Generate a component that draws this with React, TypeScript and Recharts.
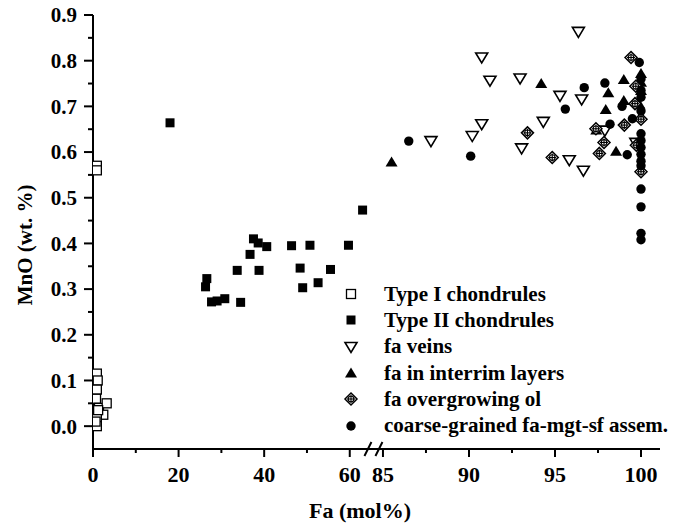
import React from "react";
import {
  ScatterChart,
  Scatter,
  XAxis,
  YAxis,
  Legend,
  ReferenceDot,
} from "recharts";

// broken x axis: 0..64 drawn as is, 85..100 stretched after a gap
const U85 = 67.76;
const K = 4.02;
const toU = (fa: number) => (fa <= 64 ? fa : U85 + (fa - 85) * K);

const leftTicks = [0, 10, 20, 30, 40, 50, 60];
const rightTicks = [85, 87.5, 90, 92.5, 95, 97.5, 100];
const xLabelled = [0, 20, 40, 60, 85, 90, 95, 100];

const yMajor = [0, 0.1, 0.2, 0.3, 0.4, 0.5, 0.6, 0.7, 0.8, 0.9];
const yMinor = [0.05, 0.15, 0.25, 0.35, 0.45, 0.55, 0.65, 0.75, 0.85];

const typeIFa = [0.9, 0.9, 0.9, 1.1, 0.9, 0.7, 1.4, 3.2, 2.4, 0.9, 0.9, 1.2, 0.6];
const typeIMnO = [0.57, 0.56, 0.115, 0.1, 0.08, 0.06, 0.04, 0.05, 0.025, 0.02, 0.0, 0.035, 0.01];

const typeIIFa = [18.0, 37.5, 38.6, 40.6, 46.4, 50.7, 59.7, 36.7, 33.7, 38.8, 48.4, 55.5, 26.6, 26.3, 49.0, 52.6, 27.7, 29.0, 30.8, 34.5, 63.0];
const typeIIMnO = [0.664, 0.41, 0.401, 0.393, 0.395, 0.396, 0.396, 0.376, 0.341, 0.341, 0.346, 0.343, 0.323, 0.305, 0.303, 0.314, 0.272, 0.274, 0.279, 0.271, 0.473];

const veinFa = [96.36, 90.74, 91.22, 92.97, 95.29, 96.55, 90.74, 94.32, 90.19, 87.79, 93.06, 95.83, 96.65, 97.9, 99.7];
const veinMnO = [0.863, 0.807, 0.756, 0.761, 0.723, 0.715, 0.661, 0.666, 0.635, 0.624, 0.608, 0.582, 0.559, 0.647, 0.62];

const interrimFa = [85.5, 94.2, 99.0, 98.1, 97.95, 99.0, 97.4, 98.55, 100.0, 100.0, 100.0, 99.9];
const interrimMnO = [0.578, 0.75, 0.759, 0.73, 0.693, 0.713, 0.648, 0.602, 0.772, 0.753, 0.735, 0.705];

const overFa = [93.4, 94.84, 99.42, 97.85, 97.58, 97.38, 99.03, 100.0, 99.7, 99.65, 99.73, 100.0];
const overMnO = [0.642, 0.588, 0.807, 0.621, 0.597, 0.651, 0.659, 0.672, 0.744, 0.706, 0.615, 0.557];

const coarseFa = [86.5, 90.1, 95.6, 96.7, 97.9, 98.2, 99.2, 98.9, 99.5, 99.9, 100, 100, 100, 100, 100, 100, 100, 100, 100, 100, 100, 100, 100, 100];
const coarseMnO = [0.624, 0.591, 0.694, 0.741, 0.751, 0.661, 0.594, 0.7, 0.673, 0.796, 0.76, 0.72, 0.69, 0.64, 0.625, 0.61, 0.595, 0.58, 0.57, 0.519, 0.48, 0.422, 0.408, 0.735];

const FONT = "'Liberation Serif', 'Times New Roman', serif";

const build = (fa: number[], v: number[]) => fa.map((f, i) => ({ u: toU(f), v: v[i] }));

const OpenSquare = ({ cx, cy }: any) => (
  <rect x={cx - 4.5} y={cy - 4.5} width={9} height={9} fill="#fff" stroke="#000" strokeWidth={1.3} />
);
const FilledSquare = ({ cx, cy }: any) => (
  <rect x={cx - 4.5} y={cy - 4.5} width={9} height={9} fill="#000" />
);
const DownTriangle = ({ cx, cy }: any) => (
  <path d={`M${cx - 6},${cy - 4.5} L${cx + 6},${cy - 4.5} L${cx},${cy + 5.5} Z`} fill="#fff" stroke="#000" strokeWidth={1.6} />
);
const UpTriangle = ({ cx, cy }: any) => (
  <path d={`M${cx - 6},${cy + 4.5} L${cx + 6},${cy + 4.5} L${cx},${cy - 5.5} Z`} fill="#000" />
);
const CrossDiamond = ({ cx, cy }: any) => (
  <g fill="none" stroke="#000">
    <path d={`M${cx},${cy - 6} L${cx + 6},${cy} L${cx},${cy + 6} L${cx - 6},${cy} Z`} fill="#fff" strokeWidth={1.5} />
    <circle cx={cx} cy={cy} r={2.8} strokeWidth={1.1} />
    <line x1={cx - 4} y1={cy} x2={cx + 4} y2={cy} strokeWidth={1.1} />
    <line x1={cx} y1={cy - 4} x2={cx} y2={cy + 4} strokeWidth={1.1} />
  </g>
);
const FilledCircle = ({ cx, cy }: any) => <circle cx={cx} cy={cy} r={4.7} fill="#000" />;

const series = [
  { name: "Type I chondrules", data: build(typeIFa, typeIMnO), Shape: OpenSquare },
  { name: "Type II chondrules", data: build(typeIIFa, typeIIMnO), Shape: FilledSquare },
  { name: "fa veins", data: build(veinFa, veinMnO), Shape: DownTriangle },
  { name: "fa in interrim layers", data: build(interrimFa, interrimMnO), Shape: UpTriangle },
  { name: "fa overgrowing ol", data: build(overFa, overMnO), Shape: CrossDiamond },
  { name: "coarse-grained fa-mgt-sf assem.", data: build(coarseFa, coarseMnO), Shape: FilledCircle },
];

const xTickList = [...leftTicks, ...rightTicks].map((fa) => ({
  u: toU(fa),
  label: xLabelled.includes(fa) ? String(fa) : "",
}));

const XTick = ({ x, y, index }: any) => {
  const t = xTickList[index];
  const major = t && t.label !== "";
  return (
    <g>
      <line x1={x} y1={y} x2={x} y2={y + (major ? 8 : 4)} stroke="#000" strokeWidth={2} />
      {major && (
        <text x={x} y={y + 33} textAnchor="middle" fontFamily={FONT} fontWeight="bold" fontSize={22} fill="#000">
          {t.label}
        </text>
      )}
    </g>
  );
};

const yTickList = [...yMajor, ...yMinor];

const YTick = ({ x, y, payload }: any) => {
  const major = yMajor.some((m) => Math.abs(m - payload.value) < 1e-9);
  return (
    <g>
      <line x1={x} y1={y} x2={x - (major ? 9 : 5)} y2={y} stroke="#000" strokeWidth={2} />
      {major && (
        <text x={x - 16} y={y} dy="0.35em" textAnchor="end" fontFamily={FONT} fontWeight="bold" fontSize={21} fill="#000">
          {payload.value.toFixed(1)}
        </text>
      )}
    </g>
  );
};

const BreakMark = ({ cx, cy }: any) => (
  <g stroke="#000" strokeWidth={2}>
    <line x1={cx - 11} y1={cy + 7} x2={cx - 4} y2={cy - 7} />
    <line x1={cx} y1={cy + 7} x2={cx + 7} y2={cy - 7} />
  </g>
);

const LegendBox = () => (
  <div style={{ fontFamily: FONT, fontWeight: "bold", fontSize: 21, color: "#000" }}>
    {series.map((s) => (
      <div key={s.name} style={{ display: "flex", alignItems: "center", height: 26.3, whiteSpace: "nowrap" }}>
        <svg width={16} height={16}>
          <s.Shape cx={8} cy={8} />
        </svg>
        <span style={{ marginLeft: 25 }}>{s.name}</span>
      </div>
    ))}
  </div>
);

export default function App() {
  return (
    <div style={{ marginTop: -8 }}>
      <ScatterChart width={671} height={523} margin={{ top: 15, right: 19, bottom: 0, left: 0 }}>
        <XAxis
          type="number"
          dataKey="u"
          domain={[0, 132.5]}
          ticks={xTickList.map((t) => t.u)}
          interval={0}
          tick={<XTick />}
          tickSize={0}
          tickMargin={0}
          tickLine={false}
          axisLine={{ stroke: "#000", strokeWidth: 2 }}
          height={74}
          allowDataOverflow
          label={() => (
            <text x={352} y={518} textAnchor="middle" fontFamily={FONT} fontWeight="bold" fontSize={22} fill="#000">
              Fa (mol%)
            </text>
          )}
        />
        <YAxis
          type="number"
          dataKey="v"
          domain={[-0.05, 0.9]}
          ticks={yTickList}
          interval={0}
          tick={<YTick />}
          tickSize={0}
          tickMargin={0}
          tickLine={false}
          axisLine={{ stroke: "#000", strokeWidth: 2 }}
          width={85}
          allowDataOverflow
          label={() => (
            <text
              x={17}
              y={245}
              transform="rotate(-90 17 245)"
              textAnchor="middle"
              dominantBaseline="central"
              fontFamily={FONT}
              fontWeight="bold"
              fontSize={21}
              fill="#000"
            >
              MnO (wt. %)
            </text>
          )}
        />
        <ReferenceDot x={66} y={-0.05} ifOverflow="visible" shape={<BreakMark />} />
        <Legend
          layout="vertical"
          align="center"
          verticalAlign="middle"
          content={<LegendBox />}
          wrapperStyle={{ top: 281, left: 335, width: 330 }}
        />
        {series.map((s) => (
          <Scatter
            key={s.name}
            name={s.name}
            data={s.data}
            isAnimationActive={false}
            shape={(p: any) => <s.Shape cx={p.cx} cy={p.cy} />}
          />
        ))}
      </ScatterChart>
    </div>
  );
}
